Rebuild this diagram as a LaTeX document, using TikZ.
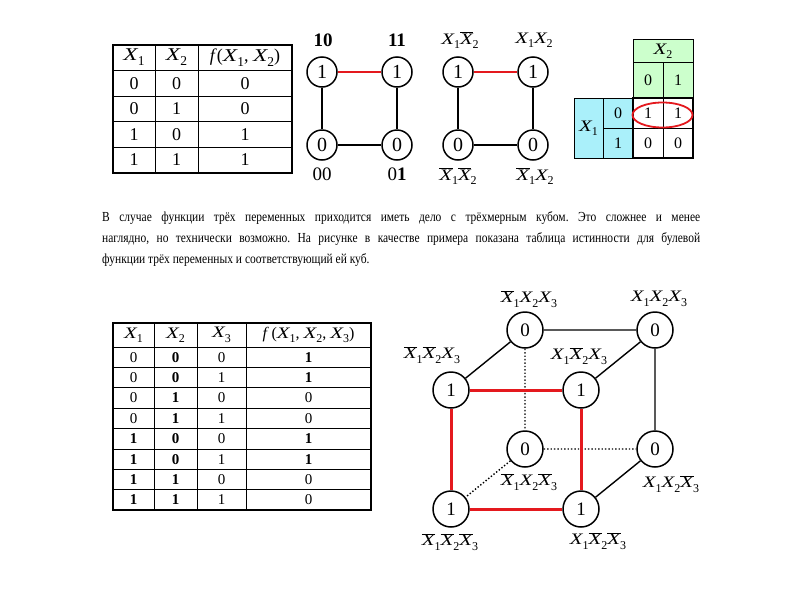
\documentclass[tikz,border=0pt]{standalone}
\usepackage{fontspec}
\usepackage{graphicx}
\setmainfont{Liberation Serif}
\frenchspacing
\newcommand\XX{\scalebox{1.3}[1]{\textit{X}}}
\newcommand\sbs[1]{\kern-0.04em\raisebox{-0.28em}{\scalebox{0.75}{#1}}}
\newcommand\Xp[1]{\XX\sbs{#1}}
\newcommand\Xb[1]{$\overline{\mbox{\XX}}$\sbs{#1}}
\newcommand\parline[1]{\scalebox{1}[1.2]{#1}}
\definecolor{kgreen}{RGB}{204,255,204}
\definecolor{kcyan}{RGB}{170,240,250}
\definecolor{cred}{RGB}{228,25,30}
\begin{document}
\frenchspacing
\begin{tikzpicture}[x=1pt,y=-1pt,
  thinln/.style={line width=0.9pt},
  thickln/.style={line width=2pt},
  tone/.style={inner sep=0pt, font=\fontsize{18}{18}\selectfont},
  ttwo/.style={inner sep=0pt, font=\fontsize{15}{15}\selectfont},
  ttwoh/.style={inner sep=0pt, font=\fontsize{16}{16}\selectfont},
  vtx/.style={circle, draw, line width=1.5pt, minimum size=30pt, inner sep=0pt, font=\fontsize{20}{20}\selectfont},
  cvtx/.style={circle, draw, line width=1.5pt, minimum size=36pt, inner sep=0pt, font=\fontsize{19}{19}\selectfont},
  sqlab/.style={inner sep=0pt, font=\fontsize{16}{16}\selectfont},
  sqnum/.style={inner sep=0pt, font=\fontsize{19}{19}\selectfont},
  cublab/.style={inner sep=0pt, font=\fontsize{16}{16}\selectfont},
  redge/.style={draw=cred, line width=2.5pt},
  credge/.style={draw=cred, line width=3pt},
  bedge/.style={draw=black, line width=1.4pt},
  dedge/.style={draw=black, line width=1.4pt, dotted},
  kcell/.style={inner sep=0pt, font=\fontsize{16}{16}\selectfont},
  partext/.style={inner sep=0pt, anchor=base west, font=\fontsize{11.5}{13}\selectfont}
]
\useasboundingbox[fill=white] (0,0) rectangle (800,600);

% ---------- table 1 ----------
\draw[thinln] (155,45) -- (155,173) (198,45) -- (198,173);
\foreach \y in {70,96,121,147} \draw[thinln] (113,\y) -- (292,\y);
\draw[thickln] (113,45) rectangle (292,173);
\node[tone] (a-h1) at (134,57.5) {\Xp1};
\node[tone] (a-h2) at (176.5,57.5) {\Xp2};
\node[tone] (a-h3) at (245,57.5) {\textit{f}(\Xp1, \Xp2)};
\foreach \p/\q/\r [count=\i] in {0/0/0,0/1/0,1/0/1,1/1/1} {
  \node[tone] (a-\i-1) at (134,57.5+25.6*\i) {\p};
  \node[tone] (a-\i-2) at (176.5,57.5+25.6*\i) {\q};
  \node[tone] (a-\i-3) at (245,57.5+25.6*\i) {\r};
}

% ---------- square 1 ----------
\node[vtx] (p10) at (322,72) {1};
\node[vtx] (p11) at (397,72) {1};
\node[vtx] (p00) at (322,145) {0};
\node[vtx] (p01) at (397,145) {0};
\draw[redge] (p10) -- (p11);
\draw[bedge] (p10) -- (p00) (p11) -- (p01) (p00) -- (p01);
\node[sqnum, font=\fontsize{19}{19}\selectfont\bfseries] (l10) at (323,40) {10};
\node[sqnum, font=\fontsize{19}{19}\selectfont\bfseries] (l11) at (397,40) {11};
\node[sqnum] (l00) at (322,174) {00};
\node[sqnum] (l01) at (397,174) {0\textbf{1}};

% ---------- square 2 ----------
\node[vtx] (q10) at (458,72) {1};
\node[vtx] (q11) at (533,72) {1};
\node[vtx] (q00) at (458,145) {0};
\node[vtx] (q01) at (533,145) {0};
\draw[redge] (q10) -- (q11);
\draw[bedge] (q10) -- (q00) (q11) -- (q01) (q00) -- (q01);
\node[sqlab] (ql10) at (460,40) {\Xp1\Xb2};
\node[sqlab] (ql11) at (534,40) {\Xp1\Xp2};
\node[sqlab] (ql00) at (458,176) {\Xb1\Xb2};
\node[sqlab] (ql01) at (535,176) {\Xb1\Xp2};

% ---------- K-map ----------
\fill[kgreen] (633,39) rectangle (693,98);
\fill[kcyan] (574,98) rectangle (633,158);
\draw[thinln] (633,39) rectangle (693,98) (633,62) -- (693,62) (663,62) -- (663,98);
\draw[thinln] (574,98) rectangle (633,158) (603,98) -- (603,158) (603,128) -- (633,128);
\draw[thinln] (663,98) -- (663,158) (633,128) -- (693,128);
\draw[thickln] (633,98) rectangle (693,158);
\node[kcell] (kx2) at (663,51) {\Xp2};
\node[kcell] (kc0) at (648,80) {0};
\node[kcell] (kc1) at (678,80) {1};
\node[kcell] (kx1) at (588.5,128) {\Xp1};
\node[kcell] (kr0) at (618,113) {0};
\node[kcell] (kr1) at (618,143) {1};
\node[kcell] (k00) at (648,113) {1};
\node[kcell] (k01) at (678,113) {1};
\node[kcell] (k10) at (648,143) {0};
\node[kcell] (k11) at (678,143) {0};
\draw[cred, line width=1.8pt] (662.5,115) ellipse [x radius=30pt, y radius=12.5pt];

% ---------- paragraph ----------
\node[partext] (par1) at (102,221) {\parline{\makebox[598pt][s]{В случае функции трёх переменных приходится иметь дело с трёхмерным кубом. Это сложнее и менее}}};
\node[partext] (par2) at (102,242) {\parline{\makebox[598pt][s]{наглядно, но технически возможно. На рисунке в качестве примера показана таблица истинности для булевой}}};
\node[partext] (par3) at (102,263) {\parline{функции трёх переменных и соответствующий ей куб.}};

% ---------- table 2 ----------
\foreach \x in {154,197,246} \draw[thinln] (\x,323) -- (\x,510);
\foreach \i in {0,...,7} \draw[thinln] (113,347+20.4*\i) -- (371,347+20.4*\i);
\draw[thickln] (113,323) rectangle (371,510);
\node[ttwoh] (b-h1) at (133.5,335) {\Xp1};
\node[ttwoh] (b-h2) at (175.5,335) {\Xp2};
\node[ttwoh] (b-h3) at (221.5,335) {\Xp3};
\node[ttwoh] (b-h4) at (308.5,335) {\textit{f}\,(\Xp1, \Xp2, \Xp3)};
\foreach \p/\q/\r/\s [count=\i] in {
  0/\textbf{0}/0/\textbf{1},
  0/\textbf{0}/1/\textbf{1},
  0/\textbf{1}/0/0,
  0/\textbf{1}/1/0,
  \textbf{1}/\textbf{0}/0/\textbf{1},
  \textbf{1}/\textbf{0}/1/\textbf{1},
  \textbf{1}/\textbf{1}/0/0,
  \textbf{1}/\textbf{1}/1/0} {
  \node[ttwo] (b-\i-1) at (133.5,336.8+20.4*\i) {\p};
  \node[ttwo] (b-\i-2) at (175.5,336.8+20.4*\i) {\q};
  \node[ttwo] (b-\i-3) at (221.5,336.8+20.4*\i) {\r};
  \node[ttwo] (b-\i-4) at (308.5,336.8+20.4*\i) {\s};
}

% ---------- cube ----------
\node[cvtx] (c011) at (525,330) {0};
\node[cvtx] (c111) at (655,330) {0};
\node[cvtx] (c001) at (451,390) {1};
\node[cvtx] (c101) at (581,390) {1};
\node[cvtx] (c010) at (525,449) {0};
\node[cvtx] (c110) at (655,449) {0};
\node[cvtx] (c000) at (451,509) {1};
\node[cvtx] (c100) at (581,509) {1};
\draw[bedge] (c011) -- (c111) (c011) -- (c001) (c111) -- (c101) (c111) -- (c110) (c110) -- (c100);
\draw[dedge] (c011) -- (c010) (c010) -- (c110) (c010) -- (c000);
\draw[credge] (c001) -- (c101) (c001) -- (c000) (c101) -- (c100) (c000) -- (c100);
\node[cublab] (lc011) at (529,299) {\Xb1\Xp2\Xp3};
\node[cublab] (lc111) at (659,299) {\Xp1\Xp2\Xp3};
\node[cublab] (lc001) at (432,355) {\Xb1\Xb2\Xp3};
\node[cublab] (lc101) at (579,356) {\Xp1\Xb2\Xp3};
\node[cublab] (lc010) at (529,482) {\Xb1\Xp2\Xb3};
\node[cublab] (lc110) at (671,484) {\Xp1\Xp2\Xb3};
\node[cublab] (lc000) at (450,542) {\Xb1\Xb2\Xb3};
\node[cublab] (lc100) at (598,541) {\Xp1\Xb2\Xb3};
\end{tikzpicture}
\end{document}
